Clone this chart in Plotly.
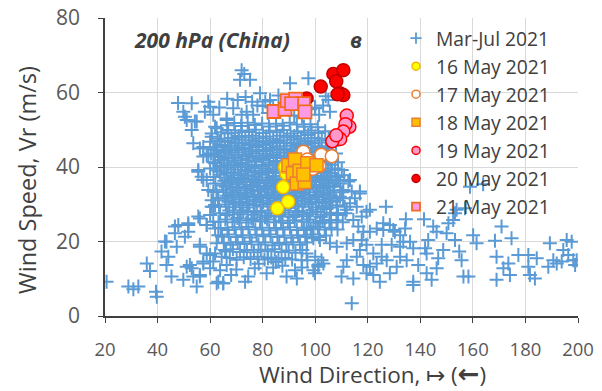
import plotly.graph_objects as go

# ---- Mar-Jul 2021 background sample: (wind direction deg, wind speed m/s) ----
mar_jul_upper = [
    (72.0, 66.0), (71.4, 63.4), (75.2, 63.4), (73.0, 65.0), (90.4, 62.5), (97.4, 63.8),
    (79.0, 59.8), (82.8, 58.0), (70.5, 58.0), (78.0, 56.5), (63.5, 56.0), (68.8, 55.8),
    (73.9, 54.8), (76.4, 54.0), (72.0, 54.0), (66.3, 53.0), (86.0, 59.2), (73.5, 58.8),
    (66.5, 58.3), (76.0, 57.5), (81.0, 57.6), (97.5, 57.8), (100.0, 56.0), (104.0, 59.0),
    (105.0, 58.0), (103.0, 56.5), (98.0, 55.5), (99.9, 55.8), (101.5, 54.0), (105.6, 54.8),
    (95.0, 53.5), (92.0, 53.8), (80.0, 56.4), (84.0, 56.0), (86.0, 55.0), (82.0, 54.5),
]

mar_jul_west = [
    (49.8, 54.8), (53.0, 57.1), (50.4, 53.5), (51.1, 52.6), (54.9, 52.2), (53.0, 49.9),
    (53.6, 46.4), (56.1, 45.0), (57.4, 42.8), (55.5, 39.2), (56.8, 37.4), (58.7, 36.5),
    (59.3, 57.5), (60.0, 56.2), (58.0, 54.8), (61.2, 54.0), (62.5, 50.4), (60.6, 49.0),
    (60.0, 46.8), (61.2, 44.6), (59.3, 43.2), (61.9, 41.0), (63.7, 47.0), (65.7, 45.4),
    (66.3, 52.6), (66.9, 49.0), (54.2, 52.2), (61.9, 50.8), (60.6, 48.1), (57.4, 45.4),
    (58.7, 43.2), (62.5, 44.6), (55.5, 38.7), (57.4, 36.5), (59.3, 33.8), (60.6, 31.1),
    (61.2, 29.3), (56.1, 26.2), (58.7, 24.4), (51.7, 24.9), (46.6, 24.0), (50.4, 21.3),
    (42.8, 20.0), (56.1, 18.6), (20.6, 9.2), (28.9, 7.9), (30.8, 7.2), (32.7, 7.9),
    (35.9, 14.1), (37.1, 12.1), (39.4, 6.5), (39.7, 5.2), (41.5, 17.3), (43.4, 19.9),
    (44.1, 15.9), (43.4, 13.7), (45.3, 10.6), (46.6, 22.2), (47.3, 18.6), (47.9, 24.4),
    (49.8, 9.7), (51.1, 13.2), (52.3, 13.7), (51.7, 22.6), (51.7, 24.4), (53.0, 12.8),
    (53.6, 10.6), (54.9, 7.9), (55.5, 26.7), (56.1, 11.0), (56.1, 19.1), (58.7, 16.8),
    (58.7, 24.4), (57.4, 14.1), (61.2, 33.4), (61.9, 29.8), (63.1, 9.2), (65.0, 8.8),
    (63.1, 31.6), (60.6, 29.3), (60.0, 27.1), (61.2, 25.3), (61.9, 23.5), (63.1, 21.7),
    (62.5, 19.5), (61.9, 16.8), (64.4, 15.9), (61.2, 14.6), (63.8, 12.3), (60.0, 12.8),
    (62.5, 8.8), (56.1, 10.6), (60.0, 16.4), (57.4, 14.6), (47.8, 57.2),
]

mar_jul_core = [
    (66.5, 51.2), (69.2, 51.8), (71.8, 51.0), (74.3, 51.9), (77.0, 51.3), (79.8, 51.7),
    (82.4, 50.9), (85.1, 51.6), (87.6, 51.1), (90.3, 51.9), (93.0, 51.4), (95.7, 50.8),
    (98.2, 51.5), (101.0, 50.7),
    (64.2, 49.3), (66.8, 49.9), (69.5, 49.2), (72.1, 49.8), (74.8, 49.4), (77.4, 50.0),
    (80.1, 49.1), (82.7, 49.7), (85.4, 49.3), (88.0, 49.9), (90.6, 49.0), (93.3, 49.6),
    (96.0, 49.2), (98.6, 49.8), (101.2, 49.1), (103.8, 49.6),
    (62.9, 47.6), (65.5, 47.1), (68.1, 47.8), (70.8, 47.3), (73.4, 47.9), (76.1, 47.2),
    (78.7, 47.7), (81.3, 47.0), (84.0, 47.6), (86.6, 47.2), (89.3, 47.9), (91.9, 47.3),
    (94.6, 47.7), (97.2, 47.1), (99.8, 47.8), (102.5, 47.2), (105.1, 47.6),
    (61.8, 45.3), (64.4, 45.9), (67.0, 45.2), (69.7, 45.7), (72.3, 45.1), (75.0, 45.8),
    (77.6, 45.4), (80.2, 45.9), (82.9, 45.2), (85.5, 45.6), (88.2, 45.0), (90.8, 45.7),
    (93.5, 45.3), (96.1, 45.9), (98.7, 45.2), (101.4, 45.6), (104.0, 45.1), (106.6, 45.7),
    (60.3, 43.6), (63.0, 43.1), (65.6, 43.8), (68.3, 43.3), (70.9, 43.9), (73.6, 43.2),
    (76.2, 43.7), (78.8, 43.0), (81.5, 43.6), (84.1, 43.2), (86.8, 43.8), (89.4, 43.1),
    (92.0, 43.7), (94.7, 43.3), (97.3, 43.9), (100.0, 43.2), (102.6, 43.7), (105.3, 43.1),
    (107.9, 43.6),
    (61.2, 41.3), (63.8, 41.9), (66.5, 41.2), (69.1, 41.7), (71.8, 41.1), (74.4, 41.8),
    (77.0, 41.4), (79.7, 41.9), (82.3, 41.2), (85.0, 41.6), (87.6, 41.0), (90.2, 41.7),
    (92.9, 41.3), (95.5, 41.9), (98.2, 41.2), (100.8, 41.6), (103.4, 41.1), (106.1, 41.7),
    (108.7, 41.3),
    (60.0, 39.6), (62.6, 39.1), (65.3, 39.8), (67.9, 39.3), (70.6, 39.9), (73.2, 39.2),
    (75.8, 39.7), (78.5, 39.0), (81.1, 39.6), (83.8, 39.2), (86.4, 39.8), (89.0, 39.1),
    (91.7, 39.7), (94.3, 39.3), (97.0, 39.9), (99.6, 39.2), (102.2, 39.7), (104.9, 39.1),
    (107.5, 39.6), (110.1, 39.2),
    (61.3, 37.3), (63.9, 37.9), (66.6, 37.2), (69.2, 37.7), (71.9, 37.1), (74.5, 37.8),
    (77.1, 37.4), (79.8, 37.9), (82.4, 37.2), (85.1, 37.6), (87.7, 37.0), (90.3, 37.7),
    (93.0, 37.3), (95.6, 37.9), (98.3, 37.2), (100.9, 37.6), (103.5, 37.1), (106.2, 37.7),
    (108.8, 37.3), (111.0, 37.8),
    (62.0, 35.6), (64.6, 35.1), (67.3, 35.8), (69.9, 35.3), (72.6, 35.9), (75.2, 35.2),
    (77.8, 35.7), (80.5, 35.0), (83.1, 35.6), (85.8, 35.2), (88.4, 35.8), (91.0, 35.1),
    (93.7, 35.7), (96.3, 35.3), (99.0, 35.9), (101.6, 35.2), (104.2, 35.7), (106.9, 35.1),
    (109.5, 35.6),
    (62.4, 33.3), (65.0, 33.9), (67.7, 33.2), (70.3, 33.7), (73.0, 33.1), (75.6, 33.8),
    (78.2, 33.4), (80.9, 33.9), (83.5, 33.2), (86.2, 33.6), (88.8, 33.0), (91.4, 33.7),
    (94.1, 33.3), (96.7, 33.9), (99.4, 33.2), (102.0, 33.6), (104.6, 33.1), (107.3, 33.7),
    (110.2, 33.2),
    (63.1, 31.6), (65.7, 31.1), (68.4, 31.8), (71.0, 31.3), (73.7, 31.9), (76.3, 31.2),
    (78.9, 31.7), (81.6, 31.0), (84.2, 31.6), (86.9, 31.2), (89.5, 31.8), (92.1, 31.1),
    (94.8, 31.7), (97.4, 31.3), (100.1, 31.9), (102.7, 31.2), (105.3, 31.7), (108.0, 31.1),
    (110.6, 31.6),
    (63.4, 29.3), (66.0, 29.9), (68.7, 29.2), (71.3, 29.7), (74.0, 29.1), (76.6, 29.8),
    (79.2, 29.4), (81.9, 29.9), (84.5, 29.2), (87.2, 29.6), (89.8, 29.0), (92.4, 29.7),
    (95.1, 29.3), (97.7, 29.9), (100.4, 29.2), (103.0, 29.6), (105.6, 29.1), (108.3, 29.7),
    (111.2, 29.3),
    (63.8, 27.6), (66.4, 27.1), (69.1, 27.8), (71.7, 27.3), (74.4, 27.9), (77.0, 27.2),
    (79.6, 27.7), (82.3, 27.0), (84.9, 27.6), (87.6, 27.2), (90.2, 27.8), (92.8, 27.1),
    (95.5, 27.7), (98.1, 27.3), (100.8, 27.9), (103.4, 27.2), (106.0, 27.7), (108.7, 27.1),
    (111.5, 27.6),
    (63.2, 25.3), (65.8, 25.9), (68.5, 25.2), (71.1, 25.7), (73.8, 25.1), (76.4, 25.8),
    (79.0, 25.4), (81.7, 25.9), (84.3, 25.2), (87.0, 25.6), (89.6, 25.0), (92.2, 25.7),
    (94.9, 25.3), (97.5, 25.9), (100.2, 25.2), (102.8, 25.6), (105.4, 25.1), (108.1, 25.7),
    (110.5, 25.2),
    (64.0, 23.6), (66.6, 23.1), (69.3, 23.8), (71.9, 23.3), (74.6, 23.9), (77.2, 23.2),
    (79.8, 23.7), (82.5, 23.0), (85.1, 23.6), (87.8, 23.2), (90.4, 23.8), (93.0, 23.1),
    (95.7, 23.7), (98.3, 23.3), (101.0, 23.9), (103.6, 23.2), (106.2, 23.7), (108.5, 23.2),
    (64.5, 21.3), (67.1, 21.9), (69.8, 21.2), (72.4, 21.7), (75.1, 21.1), (77.7, 21.8),
    (80.3, 21.4), (83.0, 21.9), (85.6, 21.2), (88.3, 21.6), (90.9, 21.0), (93.5, 21.7),
    (96.2, 21.3), (98.8, 21.9), (101.5, 21.2), (104.1, 21.6),
    (65.2, 19.6), (67.8, 19.1), (70.5, 19.8), (73.1, 19.3), (75.8, 19.9), (78.4, 19.2),
    (81.0, 19.7), (83.7, 19.0), (86.3, 19.6), (89.0, 19.2), (91.6, 19.8), (94.2, 19.1),
    (96.9, 19.7),
    (66.1, 17.3), (68.7, 17.9), (71.4, 17.2), (74.0, 17.7), (76.7, 17.1), (79.3, 17.8),
    (81.9, 17.4), (84.6, 17.9), (87.2, 17.2), (89.9, 17.6), (92.5, 17.0), (95.1, 17.7),
    (67.5, 15.6), (70.1, 15.1), (72.8, 15.8), (75.4, 15.3), (78.1, 15.9), (80.7, 15.2),
    (83.3, 15.7), (86.0, 15.1), (88.6, 15.6), (91.2, 15.2),
]

# the densest part of the cloud, between the rows above
mar_jul_dense = [
    (70.9, 48.3), (76.1, 48.4), (81.4, 48.2), (86.7, 48.4), (92.0, 48.3), (97.3, 48.6),
    (66.8, 46.7), (69.5, 46.3), (72.1, 46.6), (74.7, 46.2), (77.4, 46.8),
    (80.0, 46.5), (82.7, 46.3), (85.3, 46.7), (88.0, 46.4), (90.6, 46.6), (93.2, 46.2),
    (95.9, 46.8), (98.5, 46.4), (101.2, 46.6),
    (65.3, 44.3), (67.9, 44.7), (70.6, 44.4), (73.2, 44.8), (75.9, 44.2),
    (78.5, 44.6), (81.2, 44.3), (83.8, 44.7), (86.5, 44.4), (89.1, 44.6), (91.7, 44.2),
    (94.4, 44.8), (97.0, 44.5), (99.7, 44.3), (102.3, 44.7), (105.0, 44.4),
    (64.3, 42.7), (67.0, 42.3), (69.6, 42.6), (72.3, 42.2), (74.9, 42.8),
    (77.5, 42.5), (80.2, 42.3), (82.8, 42.7), (85.5, 42.4), (88.1, 42.6), (90.8, 42.2),
    (93.4, 42.8), (96.0, 42.4), (98.7, 42.6), (101.3, 42.3), (104.0, 42.7),
    (64.1, 40.3), (66.8, 40.7), (69.4, 40.4), (72.1, 40.8), (74.7, 40.2),
    (77.3, 40.6), (80.0, 40.3), (82.6, 40.7), (85.3, 40.4), (87.9, 40.6), (90.5, 40.2),
    (93.2, 40.8), (95.8, 40.5), (98.5, 40.3), (101.1, 40.7), (103.7, 40.4), (106.4, 40.6),
    (63.6, 38.7), (66.3, 38.3), (68.9, 38.6), (71.6, 38.2), (74.2, 38.8),
    (76.8, 38.5), (79.5, 38.3), (82.1, 38.7), (84.8, 38.4), (87.4, 38.6), (90.0, 38.2),
    (92.7, 38.8), (95.3, 38.4), (98.0, 38.6), (100.6, 38.3), (103.2, 38.7), (105.9, 38.4),
    (65.4, 36.3), (68.1, 36.7), (70.7, 36.4), (73.4, 36.8), (76.0, 36.2),
    (78.6, 36.6), (81.3, 36.3), (83.9, 36.7), (86.6, 36.4), (89.2, 36.6), (91.8, 36.2),
    (94.5, 36.8), (97.1, 36.5), (99.8, 36.3), (102.4, 36.7), (105.0, 36.4), (107.7, 36.6),
    (65.9, 34.7), (68.6, 34.3), (71.2, 34.6), (73.9, 34.2), (76.5, 34.8),
    (79.1, 34.5), (81.8, 34.3), (84.4, 34.7), (87.1, 34.4), (89.7, 34.6), (92.3, 34.2),
    (95.0, 34.8), (97.6, 34.4), (100.3, 34.6), (102.9, 34.3), (105.5, 34.7),
    (66.3, 32.3), (69.0, 32.7), (71.6, 32.4), (74.3, 32.8), (76.9, 32.2),
    (79.5, 32.6), (82.2, 32.3), (84.8, 32.7), (87.5, 32.4), (90.1, 32.6), (92.7, 32.2),
    (95.4, 32.8), (98.0, 32.5), (100.7, 32.3), (103.3, 32.7), (105.9, 32.4),
    (67.0, 30.7), (69.7, 30.3), (72.3, 30.6), (75.0, 30.2), (77.6, 30.8),
    (80.2, 30.5), (82.9, 30.3), (85.5, 30.7), (88.2, 30.4), (90.8, 30.6), (93.4, 30.2),
    (96.1, 30.8), (98.7, 30.4), (101.4, 30.6), (104.0, 30.3), (106.6, 30.7),
    (67.3, 28.3), (72.6, 28.4), (77.9, 28.2), (83.2, 28.3), (88.5, 28.4), (93.7, 28.2),
    (99.0, 28.5), (104.3, 28.7),
    (70.4, 26.3), (75.7, 26.2), (80.9, 26.5), (86.2, 26.7), (91.5, 26.6), (96.8, 26.8),
    (102.1, 26.6),
]

mar_jul_lower = [
    (65.0, 8.8), (73.3, 9.2), (74.5, 10.6), (81.5, 11.5), (84.0, 13.0), (85.0, 14.5),
    (89.1, 10.6), (93.0, 10.1), (92.3, 12.3), (99.9, 11.5), (101.2, 13.7), (103.1, 14.1),
    (66.3, 13.7), (65.7, 17.7), (70.0, 12.5), (77.0, 12.8), (78.5, 14.0), (82.0, 15.5),
    (87.5, 13.5), (95.0, 13.0), (97.0, 15.0), (68.0, 11.0),
]

mar_jul_east = [
    (112.6, 36.1), (113.9, 33.4), (117.0, 32.9), (120.8, 28.5), (126.9, 29.3), (125.9, 24.9),
    (128.4, 24.4), (130.3, 22.6), (134.5, 26.0), (132.3, 21.7), (136.1, 19.9), (137.3, 18.2),
    (141.4, 26.0), (144.9, 24.0), (146.2, 22.6), (143.0, 20.4), (141.8, 18.2), (142.4, 16.8),
    (148.7, 17.7), (146.8, 15.5), (146.2, 12.8), (150.0, 22.2), (150.7, 24.9), (152.5, 25.8),
    (153.2, 27.6), (153.8, 28.5), (157.0, 28.9), (158.9, 34.7), (163.9, 35.4), (153.2, 20.4),
    (154.8, 17.3), (155.7, 15.0), (156.4, 10.6), (158.3, 10.6), (160.1, 21.7), (161.4, 19.5),
    (168.4, 20.2), (170.9, 24.0), (169.0, 15.9), (169.0, 9.7), (174.7, 20.9), (171.6, 12.8),
    (173.5, 14.1), (174.1, 11.0), (177.3, 16.4), (181.1, 16.4), (181.1, 13.2), (181.7, 11.0),
    (183.6, 10.1), (184.3, 15.5), (188.7, 13.2), (189.3, 19.5), (190.6, 15.0), (191.9, 14.1),
    (193.8, 14.6), (194.4, 17.7), (195.7, 20.4), (197.6, 19.9), (196.3, 16.4), (198.2, 15.0),
    (199.5, 15.0), (198.9, 13.7), (113.9, 3.4), (137.3, 8.3), (137.3, 9.2), (144.3, 9.7),
    (142.4, 11.5), (139.2, 13.7), (132.3, 15.9), (134.8, 15.0), (131.0, 13.2), (128.4, 11.5),
    (124.6, 9.2), (122.1, 11.0), (119.5, 11.5), (118.3, 13.7), (114.5, 10.1), (110.0, 10.6),
    (110.7, 13.2), (112.0, 15.0), (115.8, 15.9), (117.0, 17.7), (122.1, 16.8), (125.3, 15.9),
    (127.2, 15.0), (123.4, 14.1), (120.8, 13.2), (125.3, 19.1), (129.1, 19.1), (132.3, 18.6),
    (133.5, 19.9), (119.5, 19.1), (117.7, 20.4), (114.5, 20.4), (112.0, 19.5), (108.2, 18.6),
    (105.6, 19.5), (101.8, 20.4), (99.3, 20.9), (96.7, 21.3), (134.2, 23.5), (129.7, 23.1),
    (125.9, 23.1), (123.4, 23.5), (120.8, 22.6), (118.3, 22.6), (116.4, 24.0), (114.5, 25.8),
    (117.7, 26.7), (119.5, 28.0), (115.8, 29.3), (113.2, 30.3), (109.4, 32.0), (110.7, 33.8),
    (106.9, 34.7), (108.2, 36.5), (104.4, 37.4), (113.2, 36.5), (117.0, 33.4), (115.1, 31.6),
    (112.0, 28.5), (108.2, 27.6), (105.6, 25.8), (101.8, 24.9), (99.3, 24.0), (96.7, 23.1),
    (100.0, 15.9), (102.4, 15.0), (101.2, 13.2), (99.3, 12.3), (96.7, 16.8), (94.8, 15.0),
]

mar_jul_points = (mar_jul_upper + mar_jul_west + mar_jul_core + mar_jul_dense
                  + mar_jul_lower + mar_jul_east)
mar_jul_dir = [p[0] for p in mar_jul_points]
mar_jul_speed = [p[1] for p in mar_jul_points]

# ---- individual days, 16-21 May 2021 ----
may16_dir = [85.6, 89.7, 87.8, 89.1, 88.5]
may16_speed = [28.9, 30.7, 34.6, 38.2, 40.0]

may17_dir = [95.5, 97.0, 102.3, 106.3, 101.5, 99.0, 95.0]
may17_speed = [44.1, 42.0, 43.3, 42.9, 40.3, 39.5, 40.5]

may18_dir = [89.8, 92.3, 91.5, 93.0, 96.0, 94.0, 97.0, 100.5, 95.5]
may18_speed = [40.5, 42.0, 38.3, 35.6, 36.0, 39.0, 41.0, 40.5, 38.0]

may19_dir = [112.0, 113.0, 111.5, 110.7, 109.5, 106.5, 108.0]
may19_speed = [53.8, 50.8, 51.5, 49.5, 47.5, 46.9, 48.5]

may20_dir = [96.7, 102.1, 106.9, 110.7, 108.0, 109.4, 110.7, 108.5]
may20_speed = [58.4, 61.6, 65.0, 66.0, 63.0, 59.8, 59.3, 59.5]

may21_dir = [84.3, 88.5, 89.3, 92.5, 95.5, 96.1, 91.0]
may21_speed = [54.9, 55.5, 57.8, 58.2, 57.0, 54.8, 57.0]

series = [
    ("Mar-Jul 2021", mar_jul_dir, mar_jul_speed,
     dict(symbol="cross-thin", size=10, color="#5B9BD5", line=dict(color="#5B9BD5", width=2))),
    ("16 May 2021", may16_dir, may16_speed,
     dict(symbol="circle", size=13, color="#FFFF00", line=dict(color="#F5B800", width=1.5))),
    ("17 May 2021", may17_dir, may17_speed,
     dict(symbol="circle", size=13, color="#FFFFFF", line=dict(color="#ED7D31", width=1.5))),
    ("18 May 2021", may18_dir, may18_speed,
     dict(symbol="square", size=13, color="#FFC000", line=dict(color="#ED7D31", width=1.5))),
    ("19 May 2021", may19_dir, may19_speed,
     dict(symbol="circle", size=13, color="#FF99CC", line=dict(color="#FF0000", width=1.5))),
    ("20 May 2021", may20_dir, may20_speed,
     dict(symbol="circle", size=13, color="#FF0000", line=dict(color="#C00000", width=1.5))),
    ("21 May 2021", may21_dir, may21_speed,
     dict(symbol="square", size=13, color="#FF9BE6", line=dict(color="#F26B1D", width=1.8))),
]

fig = go.Figure()
for name, xs, ys, mk in series:
    fig.add_trace(go.Scatter(x=xs, y=ys, mode="markers", name=name, marker=mk,
                             showlegend=False, hoverinfo="x+y+name"))

# compact legend symbols
for name, xs, ys, mk in series:
    small = dict(mk)
    small["size"] = 8
    small["line"] = dict(mk["line"])
    if mk["symbol"] == "cross-thin":
        small["line"]["width"] = 1.8
    fig.add_trace(go.Scatter(x=[None], y=[None], mode="markers", name=name, marker=small,
                             showlegend=True))

axis_common = dict(
    showgrid=True, gridcolor="#D9D9D9", gridwidth=1.3,
    showline=True, linecolor="#404040", linewidth=1.6,
    ticks="outside", ticklen=5, tickwidth=1.4, tickcolor="#404040",
    zeroline=False, dtick=20, automargin=False,
)

FONT = "Open Sans, sans-serif"


def px_x(p):
    return (p - 105) / 473


def px_y(p):
    return (316 - p) / 298


fig.update_layout(
    width=602, height=391,
    margin=dict(l=105, r=24, t=18, b=75),
    paper_bgcolor="white", plot_bgcolor="white",
    xaxis=dict(range=[20, 200], tick0=20, ticklabelstandoff=11,
               tickfont=dict(family=FONT, size=18.5, color="#595959"), **axis_common),
    yaxis=dict(range=[0, 80], tick0=0, ticklabelstandoff=14,
               tickfont=dict(family=FONT, size=21, color="#595959"), **axis_common),
    legend=dict(x=px_x(396), y=px_y(19), xanchor="left", yanchor="top",
                bgcolor="rgba(0,0,0,0)",
                font=dict(family=FONT, size=19.3, color="#404040")),
    showlegend=True,
    annotations=[
        dict(text="<b><i>200 hPa (China)</i></b>", x=px_x(212), y=px_y(40),
             xanchor="center", yanchor="middle",
             xref="paper", yref="paper", showarrow=False,
             font=dict(family=FONT, size=21, color="#404040")),
        dict(text="<b><i>в</i></b>", x=px_x(356), y=px_y(40),
             xanchor="center", yanchor="middle",
             xref="paper", yref="paper", showarrow=False,
             font=dict(family=FONT, size=21, color="#404040")),
        dict(text="Wind Speed, Vr (m/s)", x=px_x(27), y=px_y(180),
             xanchor="center", yanchor="middle",
             xref="paper", yref="paper", showarrow=False, textangle=-90,
             font=dict(family=FONT, size=23.5, color="#404040")),
        dict(text="Wind Direction, ↦ (<span style=\"font-family:'DejaVu Sans';"
                  "font-weight:bold;font-size:26px\">←</span>)",
             x=px_x(372), y=px_y(375),
             xanchor="center", yanchor="middle",
             xref="paper", yref="paper", showarrow=False,
             font=dict(family=FONT, size=22.5, color="#404040")),
    ],
)

fig.write_html("out.html")
